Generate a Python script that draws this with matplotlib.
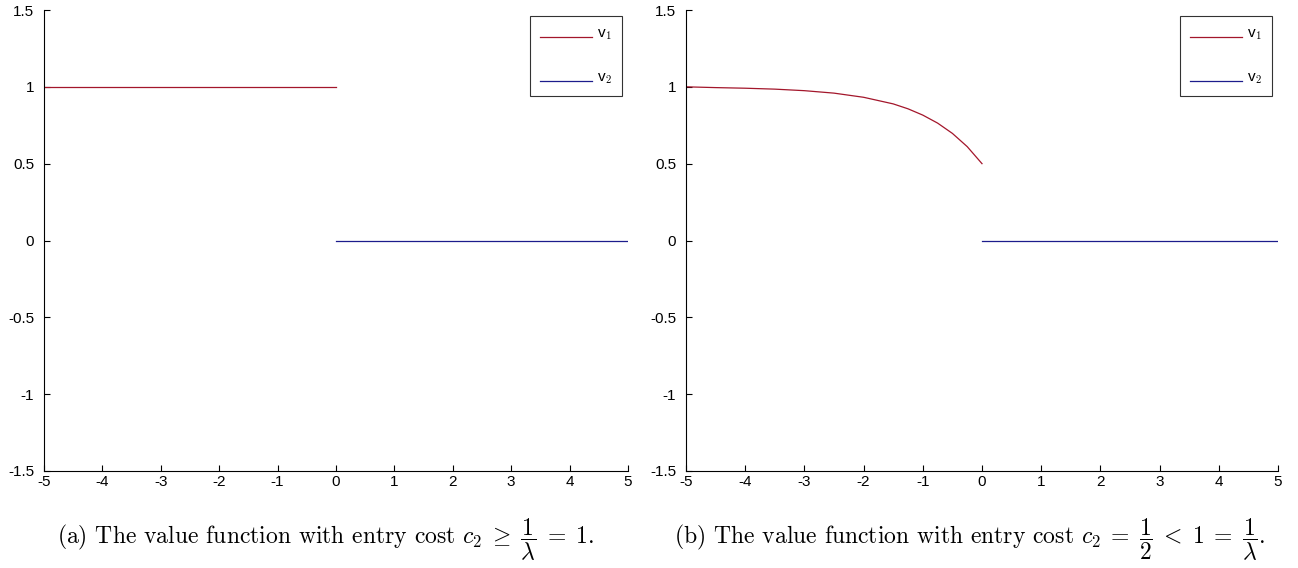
import matplotlib
matplotlib.use("Agg")
import matplotlib.pyplot as plt

plt.rcParams['font.family'] = ['Liberation Sans', 'DejaVu Sans']
plt.rcParams['mathtext.fontset'] = 'cm'

# panel (a): step value function
a_v1_x = [-5, 0]
a_v1_y = [1, 1]
a_v2_x = [0, 5]
a_v2_y = [0, 0]

# panel (b): v1
b_v1_x = [-5, -4.5, -4, -3.5, -3, -2.5, -2, -1.5, -1.25, -1, -0.75, -0.5, -0.25, 0]
b_v1_y = [1.0, 0.995, 0.991, 0.985, 0.975, 0.959, 0.932, 0.889, 0.857, 0.816, 0.764, 0.697, 0.611, 0.5]
b_v2_x = [0, 5]
b_v2_y = [0, 0]

xticks = [-5, -4, -3, -2, -1, 0, 1, 2, 3, 4, 5]
yticks = [-1.5, -1, -0.5, 0, 0.5, 1, 1.5]
ytick_labels = ['-1.5', '-1', '-0.5', '0', '0.5', '1', '1.5']

captions = [r"(a) The value function with entry cost $c_2\;\geq\;\dfrac{1}{\lambda}\;=\;1$.",
            r"(b) The value function with entry cost $c_2\;=\;\dfrac{1}{2}\;<\;1\;=\;\dfrac{1}{\lambda}$."]

red = '#a3162b'
blue = '#1c1c8c'

fig = plt.figure(figsize=(12.98, 5.68), dpi=100)
ax1 = fig.add_axes([44/1298, 1-471/568, 584/1298, 461/568])
ax2 = fig.add_axes([686/1298, 1-471/568, 592/1298, 461/568])

panels = [(ax1, a_v1_x, a_v1_y, a_v2_x, a_v2_y), (ax2, b_v1_x, b_v1_y, b_v2_x, b_v2_y)]
for ax, x1, y1, x2, y2 in panels:
    ax.plot(x1, y1, color=red, lw=0.9, label=r'v$_\mathsf{1}$')
    ax.plot(x2, y2, color=blue, lw=0.9, label=r'v$_\mathsf{2}$')
    ax.set_xlim(-5, 5)
    ax.set_ylim(-1.5, 1.5)
    ax.set_xticks(xticks)
    ax.set_xticklabels([str(t) for t in xticks])
    ax.set_yticks(yticks)
    ax.set_yticklabels(ytick_labels)
    ax.spines['top'].set_visible(False)
    ax.spines['right'].set_visible(False)
    for s in ['left', 'bottom']:
        ax.spines[s].set_linewidth(0.8)
    ax.tick_params(direction='in', length=4, width=0.8, labelsize=11)
    ax.tick_params(axis='y', pad=7)
    ax.tick_params(axis='x', pad=3)
    leg = ax.legend(loc='upper right', fontsize=11, frameon=True, fancybox=False,
                    edgecolor='black', handlelength=3.4, labelspacing=1.9,
                    borderpad=0.65, borderaxespad=0.4, handletextpad=0.3)
    leg.get_frame().set_linewidth(0.8)
    # MATLAB puts the sample line at the foot of the label
    for ln in leg.get_lines():
        ln.set_ydata([y - 3.5 for y in ln.get_ydata()])

fig.text(326/1298, 1-540/568, captions[0], family='cmr10', fontsize=17, ha='center', va='center')
fig.text(970/1298, 1-540/568, captions[1], family='cmr10', fontsize=17, ha='center', va='center')

plt.savefig('out.png', dpi=100)
